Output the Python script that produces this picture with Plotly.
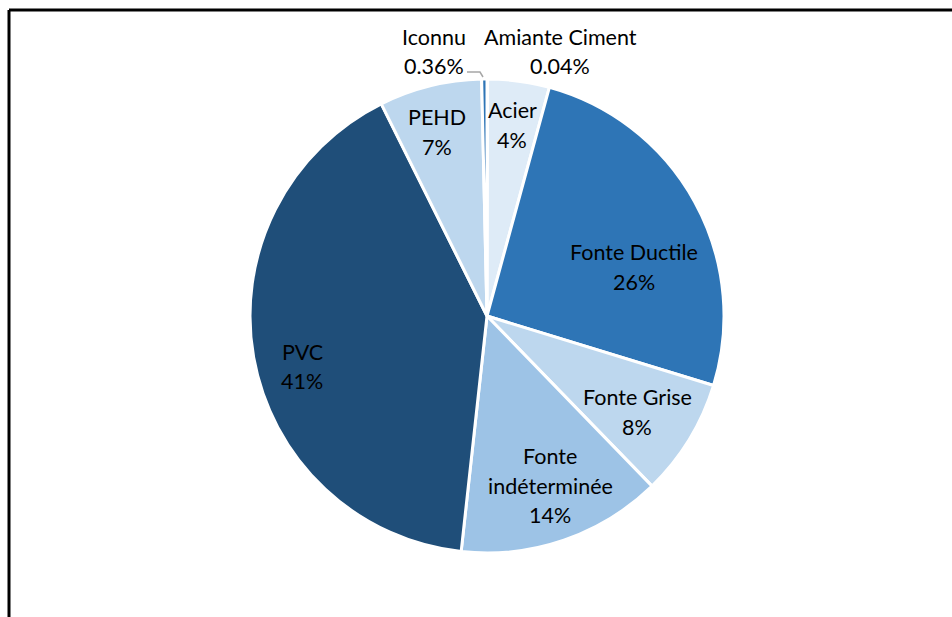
import plotly.graph_objects as go

labels = ["Amiante Ciment", "Acier", "Fonte Ductile", "Fonte Grise",
          "Fonte indéterminée", "PVC", "PEHD", "Iconnu"]
label_lines = [["Amiante Ciment"], ["Acier"], ["Fonte Ductile"], ["Fonte Grise"],
               ["Fonte", "indéterminée"], ["PVC"], ["PEHD"], ["Iconnu"]]
values = [0.04, 4.2, 25.5, 8.0, 14.0, 40.9, 7.0, 0.36]
colors = ["#2E75B6", "#DEEBF7", "#2E75B6", "#BDD7EE", "#9DC3E6", "#1F4E79", "#BDD7EE", "#2E75B6"]

# label anchor positions on the page (x centre, y of first line), in pixels
label_pos = [(560, 37), (512, 110), (634, 252), (637, 397),
             (550, 456), (302, 352), (437, 117), (434, 37)]
LINE_GAP = 29.5

W, H = 952, 617
ml, mt = 250, 79
pw = ph = 474
mr, mb = W - ml - pw, H - mt - ph

def px(x):
    return (x - ml) / pw

def py(y):
    return (H - mb - y) / ph

fig = go.Figure(go.Pie(
    labels=labels, values=values, textinfo="none",
    sort=False, direction="clockwise", rotation=0,
    marker=dict(colors=colors, line=dict(color="white", width=3)),
    showlegend=False, hoverinfo="label+percent",
))

font = dict(family="Lato, Noto Sans, sans-serif", size=21.5, color="black")
for lines, v, (x, y) in zip(label_lines, values, label_pos):
    pct = f"{v:.2f}%" if v < 1 else f"{round(v):.0f}%"
    for i, t in enumerate(lines + [pct]):
        fig.add_annotation(x=px(x), y=py(y + i * LINE_GAP), xref="paper", yref="paper",
                           text=t, showarrow=False, font=font,
                           xanchor="center", yanchor="middle")

# leader line for Iconnu
fig.add_shape(type="path", xref="paper", yref="paper",
              path=f"M {px(467)} {py(72)} L {px(480)} {py(72)} L {px(483)} {py(77)}",
              line=dict(color="#A6A6A6", width=1.5))
# frame
fig.add_shape(type="line", xref="paper", yref="paper",
              x0=px(9), y0=py(10), x1=px(970), y1=py(10), line=dict(color="black", width=3))
fig.add_shape(type="line", xref="paper", yref="paper",
              x0=px(9), y0=py(10), x1=px(9), y1=py(640), line=dict(color="black", width=3))

fig.update_layout(width=W, height=H, margin=dict(l=ml, r=mr, t=mt, b=mb),
                  paper_bgcolor="white", plot_bgcolor="white")
fig.write_html("out.html", config={"displayModeBar": False},
               post_script="document.body.style.margin='0px';document.body.style.overflow='hidden';")
